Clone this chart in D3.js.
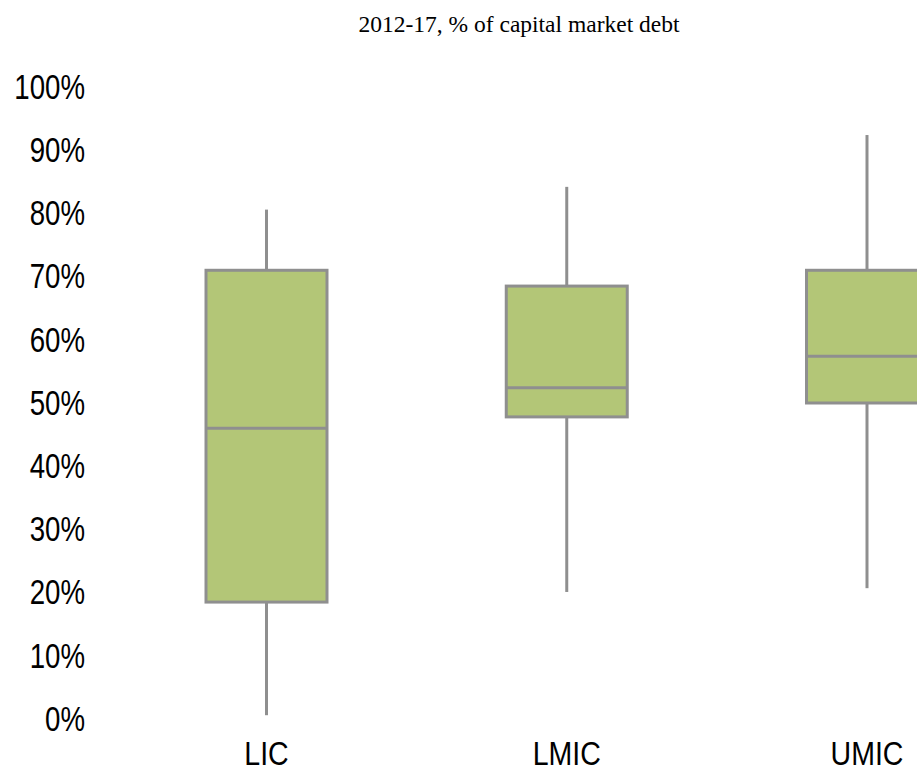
<!DOCTYPE html>
<html>
<head>
<meta charset="utf-8">
<script src="https://cdn.jsdelivr.net/npm/d3@7"></script>
<style>
  html, body { margin: 0; padding: 0; background: #fff; overflow: hidden; }
  svg { display: block; }
</style>
</head>
<body>
<svg id="chart" width="917" height="778"></svg>
<script>
const categories = ["LIC", "LMIC", "UMIC"];
const minValues = [0.006, 0.201, 0.207];
const q1Values = [0.185, 0.478, 0.500];
const medianValues = [0.460, 0.524, 0.574];
const q3Values = [0.710, 0.685, 0.710];
const maxValues = [0.806, 0.842, 0.924];
const tickValues = [0, 0.1, 0.2, 0.3, 0.4, 0.5, 0.6, 0.7, 0.8, 0.9, 1.0];
const titleText = "2012-17, % of capital market debt";

const data = categories.map((c, i) => ({
  cat: c, min: minValues[i], q1: q1Values[i], med: medianValues[i], q3: q3Values[i], max: maxValues[i]
}));

const svg = d3.select("#chart");
const y = d3.scaleLinear().domain([0, 1]).range([719, 87]);
const x = d3.scalePoint().domain(categories).range([266.5, 867]);
const boxW = 121;
const strokeCol = "#8f8f8f";
const fillCol = "#b3c677";

// title
svg.append("text")
  .attr("x", 519).attr("y", 32)
  .attr("text-anchor", "middle")
  .attr("font-family", "'Liberation Serif', 'Times New Roman', serif")
  .attr("font-size", 23.5)
  .attr("fill", "#000")
  .text(titleText);

// y axis (labels only)
const yAxis = svg.append("g")
  .attr("transform", "translate(85,0)")
  .call(d3.axisLeft(y).tickValues(tickValues).tickSize(0).tickPadding(0).tickFormat(d3.format(".0%")));
yAxis.select(".domain").remove();
yAxis.selectAll("text")
  .attr("x", 0)
  .attr("font-family", "'Liberation Sans', Arial, sans-serif")
  .attr("font-size", 35)
  .attr("fill", "#000")
  .attr("transform", "scale(0.79,1)");

// x axis labels
const xAxis = svg.append("g")
  .attr("transform", "translate(0,753)")
  .call(d3.axisBottom(x).tickSize(0).tickPadding(0));
xAxis.select(".domain").remove();
xAxis.selectAll("text")
  .attr("y", 0)
  .attr("dy", "0.35em")
  .attr("font-family", "'Liberation Sans', Arial, sans-serif")
  .attr("font-size", 34)
  .attr("fill", "#000")
  .attr("transform", "scale(0.84,1)");
xAxis.selectAll(".tick").attr("transform", d => `translate(${x(d)},0)`);

const g = svg.append("g");
const boxes = g.selectAll(".box").data(data).join("g").attr("class", "box");

// whiskers
boxes.append("line")
  .attr("x1", d => x(d.cat)).attr("x2", d => x(d.cat))
  .attr("y1", d => y(d.max)).attr("y2", d => y(d.q3))
  .attr("stroke", strokeCol).attr("stroke-width", 3);
boxes.append("line")
  .attr("x1", d => x(d.cat)).attr("x2", d => x(d.cat))
  .attr("y1", d => y(d.q1)).attr("y2", d => y(d.min))
  .attr("stroke", strokeCol).attr("stroke-width", 3);

// boxes
boxes.append("rect")
  .attr("x", d => x(d.cat) - boxW / 2)
  .attr("width", boxW)
  .attr("y", d => y(d.q3))
  .attr("height", d => y(d.q1) - y(d.q3))
  .attr("fill", fillCol)
  .attr("stroke", strokeCol).attr("stroke-width", 3);

// median
boxes.append("line")
  .attr("x1", d => x(d.cat) - boxW / 2).attr("x2", d => x(d.cat) + boxW / 2)
  .attr("y1", d => y(d.med)).attr("y2", d => y(d.med))
  .attr("stroke", strokeCol).attr("stroke-width", 3);
</script>
</body>
</html>
